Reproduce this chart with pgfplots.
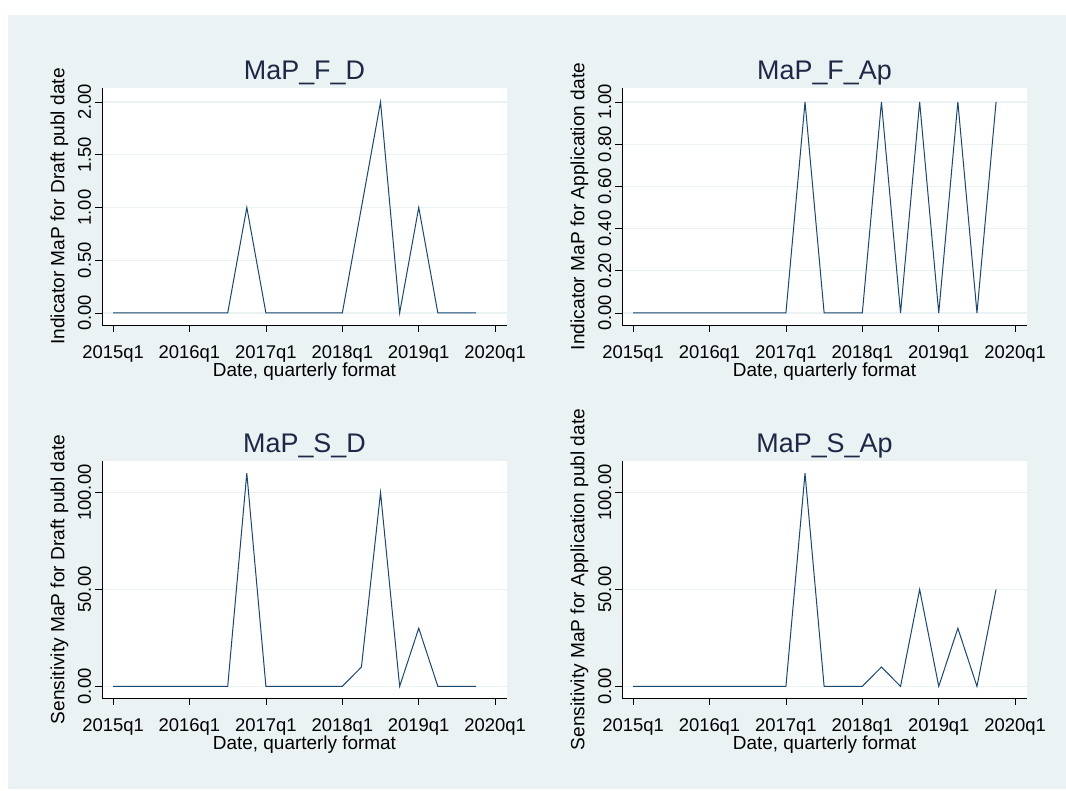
\documentclass[border=0pt]{standalone}
\usepackage{fontspec}
\setmainfont{Liberation Sans}
\usepackage{pgfplots}
\pgfplotsset{compat=1.18}
\definecolor{bgc}{RGB}{234,242,243}
\definecolor{navy}{RGB}{26,71,111}
\definecolor{titc}{RGB}{30,40,70}
\pgfplotsset{
 stpanel/.style={
  scale only axis, width=405bp, height=237bp,
  axis lines=left,
  axis line style={-, black, line width=0.8bp},
  axis background/.style={fill=white},
  xmin=-0.58, xmax=20.62,
  xtick={0,4,8,12,16,20},
  xticklabels={2015q1,2016q1,2017q1,2018q1,2019q1,2020q1},
  ymajorgrids, grid style={bgc, line width=1.2bp},
  tick align=outside, major tick length=7bp,
  tick style={black, line width=0.8bp},
  xtick pos=bottom, ytick pos=left,
  tick label style={font=\fontsize{18.5}{18.5}\selectfont, text=black},
  xticklabel style={anchor=base, yshift=-27bp},
  yticklabel style={rotate=90, anchor=base, yshift=4bp},
  title style={font=\fontsize{27}{27}\selectfont, text=titc, at={(0.5,1)}, anchor=base, yshift=3bp},
  xlabel={Date, quarterly format},
  xlabel style={at={(axis description cs:0.5,0)}, anchor=base, yshift=-52bp, font=\fontsize{19}{19}\selectfont, text=black},
  ylabel style={at={(axis description cs:-0.093,0.5)}, anchor=base, font=\fontsize{19.2}{19.2}\selectfont, text=black},
 }
}
\pgfplotstableread{
q FD FAp SD SAp
0 0 0 0 0
1 0 0 0 0
2 0 0 0 0
3 0 0 0 0
4 0 0 0 0
5 0 0 0 0
6 0 0 0 0
7 1 0 110 0
8 0 0 0 0
9 0 1 0 110
10 0 0 0 0
11 0 0 0 0
12 0 0 0 0
13 1 1 10 10
14 2 0 100 0
15 0 1 0 50
16 1 0 30 0
17 0 1 0 30
18 0 0 0 0
19 0 1 0 50
}\data
\begin{document}
\begin{tikzpicture}[x=1bp,y=1bp]
\fill[white] (0,0) rectangle (1066,791);
\fill[bgc] (8,2) rectangle (1066,776);
\useasboundingbox (0,0) rectangle (1066,791);
\begin{axis}[stpanel, at={(102bp,466bp)}, anchor=south west,
  title={MaP\_F\_D}, ylabel={Indicator MaP for Draft publ date},
  ymin=-0.114, ymax=2.133, ytick={0,0.5,1,1.5,2},
  yticklabels={0.00,0.50,1.00,1.50,2.00}]
\addplot[navy, line width=1bp, mark=none] table[x=q,y=FD]{\data};
\end{axis}
\begin{axis}[stpanel, at={(622bp,466bp)}, anchor=south west,
  title={MaP\_F\_Ap}, ylabel={Indicator MaP for Application date},
  ymin=-0.057, ymax=1.066, ytick={0,0.2,0.4,0.6,0.8,1},
  yticklabels={0.00,0.20,0.40,0.60,0.80,1.00}]
\addplot[navy, line width=1bp, mark=none] table[x=q,y=FAp]{\data};
\end{axis}
\begin{axis}[stpanel, at={(102bp,93bp)}, anchor=south west,
  title={MaP\_S\_D}, ylabel={Sensitivity MaP for Draft publ date},
  ymin=-6, ymax=116.3, ytick={0,50,100},
  yticklabels={0.00,50.00,100.00}]
\addplot[navy, line width=1bp, mark=none] table[x=q,y=SD]{\data};
\end{axis}
\begin{axis}[stpanel, at={(622bp,93bp)}, anchor=south west,
  title={MaP\_S\_Ap}, ylabel={Sensitivity MaP for Application publ date},
  ymin=-6, ymax=116.3, ytick={0,50,100},
  yticklabels={0.00,50.00,100.00}]
\addplot[navy, line width=1bp, mark=none] table[x=q,y=SAp]{\data};
\end{axis}
\end{tikzpicture}
\end{document}
